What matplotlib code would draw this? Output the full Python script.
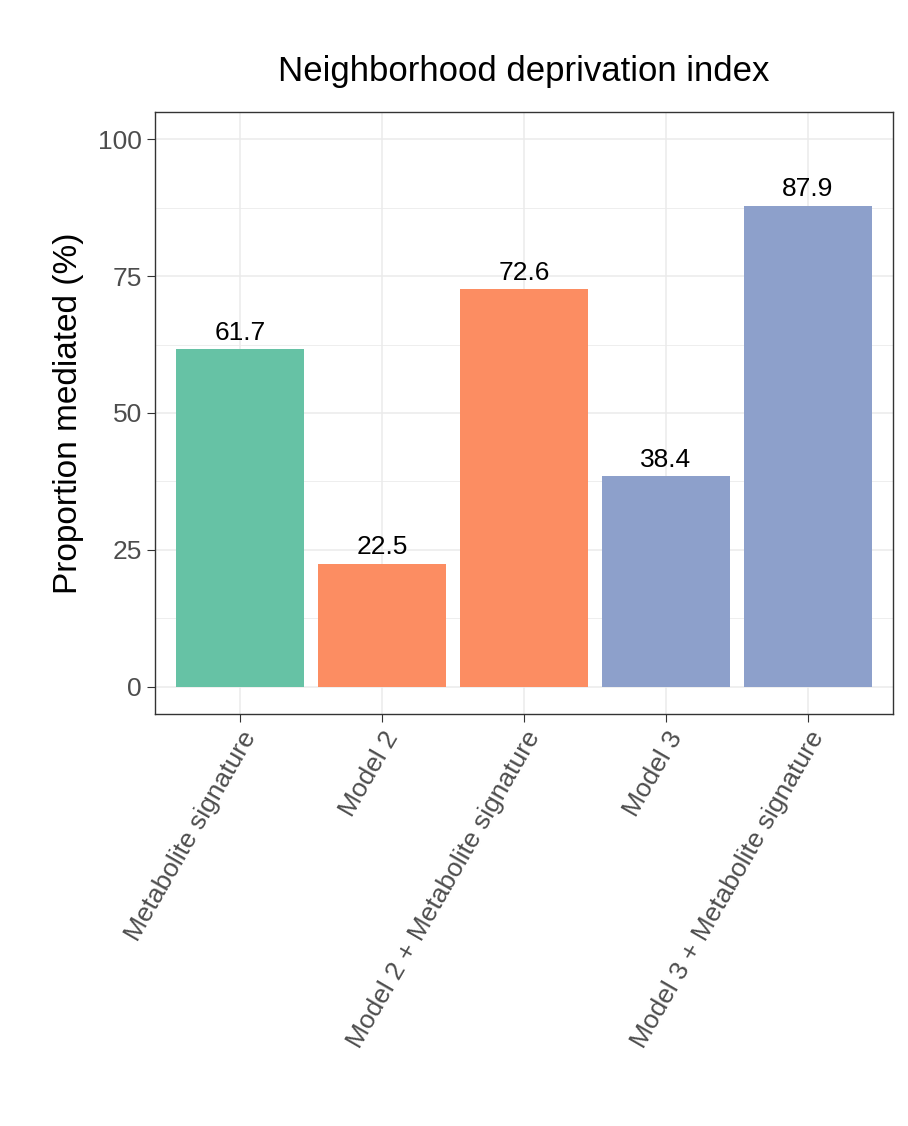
import matplotlib
matplotlib.use("Agg")
import matplotlib.pyplot as plt

categories = ["Metabolite signature", "Model 2", "Model 2 + Metabolite signature",
              "Model 3", "Model 3 + Metabolite signature"]
values = [61.7, 22.5, 72.6, 38.4, 87.9]
colors = ["#66C2A5", "#FC8D62", "#FC8D62", "#8DA0CB", "#8DA0CB"]
yticks = [0, 25, 50, 75, 100]

plt.rcParams["font.family"] = "Liberation Sans"
fig = plt.figure(figsize=(9.08, 11.26), dpi=100)
ax = fig.add_axes([155/908, 1-714/1126, (893-155)/908, (714-112)/1126])
x = list(range(1, len(categories)+1))
ax.bar(x, values, width=0.9, color=colors, zorder=2)
for xi, v in zip(x, values):
    ax.text(xi, v + 0.8, f"{v}", ha="center", va="bottom", fontsize=19, color="black")
ax.set_xlim(0.4, 5.6)
ax.set_ylim(-5, 105)
ax.set_yticks(yticks)
ax.set_yticks([12.5, 37.5, 62.5, 87.5], minor=True)
ax.set_xticks(x)
ax.set_xticklabels(categories, rotation=60, ha="right", rotation_mode="anchor",
                   fontsize=19, color="#4D4D4D")
ax.tick_params(axis="y", labelsize=19, labelcolor="#4D4D4D", color="#333333", length=6)
ax.tick_params(axis="y", which="minor", length=0)
ax.tick_params(axis="x", color="#333333", length=6)
ax.grid(True, which="major", color="#EBEBEB", lw=1.1, zorder=0)
ax.grid(True, which="minor", axis="y", color="#EBEBEB", lw=0.6, zorder=0)
ax.set_axisbelow(True)
for s in ax.spines.values():
    s.set_color("#333333"); s.set_linewidth(1)
ax.set_ylabel("Proportion mediated (%)", fontsize=24, labelpad=10)
ax.set_title("Neighborhood deprivation index", fontsize=25, pad=22)
fig.savefig("out.png", dpi=100)
